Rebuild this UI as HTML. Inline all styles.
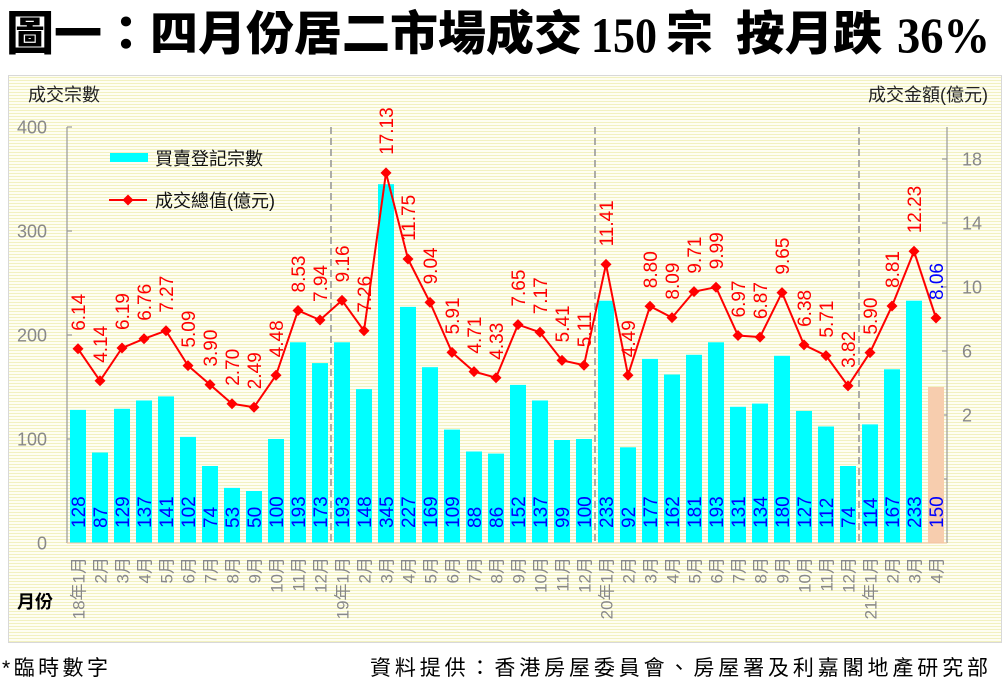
<!DOCTYPE html>
<html><head><meta charset="utf-8"><style>
html,body{margin:0;padding:0;background:#fff;}
svg{display:block;}
text{font-family:"Liberation Sans","Noto Sans CJK TC",sans-serif;}
</style></head><body>
<svg width="1006" height="687" viewBox="0 0 1006 687" xmlns="http://www.w3.org/2000/svg">
<defs>
<pattern id="st" width="6" height="3" patternUnits="userSpaceOnUse"><rect width="6" height="3" fill="#fefef2"/><rect y="2" width="6" height="1" fill="#f2f1c0"/></pattern>
<path id="d" d="M0,-5.5L5.5,0L0,5.5L-5.5,0Z" fill="#ff0000"/>
</defs>
<rect width="1006" height="687" fill="#fff"/>
<!-- Title -->
<g font-weight="900" fill="#000">
<text x="6" y="50" font-size="47" textLength="576" lengthAdjust="spacingAndGlyphs" style="font-family:'Noto Sans CJK TC','Noto Sans CJK SC',sans-serif">圖一：四月份居二市場成交</text>
<text x="591" y="52" font-size="50" textLength="66" lengthAdjust="spacingAndGlyphs" style="font-family:'Liberation Serif',serif">150</text>
<text x="666" y="50" font-size="47" style="font-family:'Noto Sans CJK TC','Noto Sans CJK SC',sans-serif">宗</text>
<text x="736" y="50" font-size="47" textLength="146" lengthAdjust="spacingAndGlyphs" style="font-family:'Noto Sans CJK TC','Noto Sans CJK SC',sans-serif">按月跌</text>
<text x="897" y="52" font-size="50" textLength="93" lengthAdjust="spacingAndGlyphs" style="font-family:'Liberation Serif',serif">36%</text>
</g>
<!-- chart box -->
<rect x="8.5" y="75.5" width="993" height="567" fill="url(#st)" stroke="#d8d8d8" stroke-width="1"/>
<text x="28" y="101" font-size="18" fill="#222">成交宗數</text>
<text x="988" y="101" font-size="18" fill="#222" text-anchor="end">成交金額(億元)</text>
<!-- axes -->
<g stroke="#999" stroke-width="1.2" fill="none">
<line x1="67" y1="127" x2="67" y2="543"/>
<line x1="947" y1="127" x2="947" y2="543"/>
<line x1="67" y1="127" x2="72" y2="127"/><line x1="67" y1="231" x2="72" y2="231"/><line x1="67" y1="335" x2="72" y2="335"/><line x1="67" y1="439" x2="72" y2="439"/>
<line x1="942" y1="159" x2="947" y2="159"/><line x1="942" y1="223" x2="947" y2="223"/><line x1="942" y1="287" x2="947" y2="287"/><line x1="942" y1="351" x2="947" y2="351"/><line x1="942" y1="415" x2="947" y2="415"/><line x1="942" y1="479" x2="947" y2="479"/>
</g>
<g stroke="#999" stroke-width="1.6" stroke-dasharray="7,4">
<line x1="331" y1="127" x2="331" y2="543"/>
<line x1="595" y1="127" x2="595" y2="543"/>
<line x1="859" y1="127" x2="859" y2="543"/>
</g>
<g font-size="18" fill="#888" text-anchor="end">
<text x="47" y="133.5">400</text><text x="47" y="237.5">300</text><text x="47" y="341.5">200</text><text x="47" y="445.5">100</text><text x="47" y="549.5">0</text>
</g>
<g font-size="18" fill="#888">
<text x="962" y="165.5">18</text><text x="962" y="229.5">14</text><text x="962" y="293.5">10</text><text x="962" y="357.5">6</text><text x="962" y="421.5">2</text>
</g>
<!-- bars -->
<g fill="#00ffff">
<rect x="70" y="409.9" width="16" height="133.1"/>
<rect x="92" y="452.5" width="16" height="90.5"/>
<rect x="114" y="408.8" width="16" height="134.2"/>
<rect x="136" y="400.5" width="16" height="142.5"/>
<rect x="158" y="396.4" width="16" height="146.6"/>
<rect x="180" y="436.9" width="16" height="106.1"/>
<rect x="202" y="466" width="16" height="77"/>
<rect x="224" y="487.9" width="16" height="55.1"/>
<rect x="246" y="491" width="16" height="52"/>
<rect x="268" y="439" width="16" height="104"/>
<rect x="290" y="342.3" width="16" height="200.7"/>
<rect x="312" y="363.1" width="16" height="179.9"/>
<rect x="334" y="342.3" width="16" height="200.7"/>
<rect x="356" y="389.1" width="16" height="153.9"/>
<rect x="378" y="184.2" width="16" height="358.8"/>
<rect x="400" y="306.9" width="16" height="236.1"/>
<rect x="422" y="367.2" width="16" height="175.8"/>
<rect x="444" y="429.6" width="16" height="113.4"/>
<rect x="466" y="451.5" width="16" height="91.5"/>
<rect x="488" y="453.6" width="16" height="89.4"/>
<rect x="510" y="384.9" width="16" height="158.1"/>
<rect x="532" y="400.5" width="16" height="142.5"/>
<rect x="554" y="440" width="16" height="103"/>
<rect x="576" y="439" width="16" height="104"/>
<rect x="598" y="300.7" width="16" height="242.3"/>
<rect x="620" y="447.3" width="16" height="95.7"/>
<rect x="642" y="358.9" width="16" height="184.1"/>
<rect x="664" y="374.5" width="16" height="168.5"/>
<rect x="686" y="354.8" width="16" height="188.2"/>
<rect x="708" y="342.3" width="16" height="200.7"/>
<rect x="730" y="406.8" width="16" height="136.2"/>
<rect x="752" y="403.6" width="16" height="139.4"/>
<rect x="774" y="355.8" width="16" height="187.2"/>
<rect x="796" y="410.9" width="16" height="132.1"/>
<rect x="818" y="426.5" width="16" height="116.5"/>
<rect x="840" y="466" width="16" height="77"/>
<rect x="862" y="424.4" width="16" height="118.6"/>
<rect x="884" y="369.3" width="16" height="173.7"/>
<rect x="906" y="300.7" width="16" height="242.3"/>
</g>
<rect x="928" y="387" width="16" height="156" fill="#f7cdae"/>
<line x1="67" y1="543" x2="947" y2="543" stroke="#f2c49e" stroke-width="1"/>
<!-- bar labels -->
<g font-size="19" fill="#0000ff">
<text transform="translate(85,528) rotate(-90)">128</text>
<text transform="translate(107,528) rotate(-90)">87</text>
<text transform="translate(129,528) rotate(-90)">129</text>
<text transform="translate(151,528) rotate(-90)">137</text>
<text transform="translate(173,528) rotate(-90)">141</text>
<text transform="translate(195,528) rotate(-90)">102</text>
<text transform="translate(217,528) rotate(-90)">74</text>
<text transform="translate(239,528) rotate(-90)">53</text>
<text transform="translate(261,528) rotate(-90)">50</text>
<text transform="translate(283,528) rotate(-90)">100</text>
<text transform="translate(305,528) rotate(-90)">193</text>
<text transform="translate(327,528) rotate(-90)">173</text>
<text transform="translate(349,528) rotate(-90)">193</text>
<text transform="translate(371,528) rotate(-90)">148</text>
<text transform="translate(393,528) rotate(-90)">345</text>
<text transform="translate(415,528) rotate(-90)">227</text>
<text transform="translate(437,528) rotate(-90)">169</text>
<text transform="translate(459,528) rotate(-90)">109</text>
<text transform="translate(481,528) rotate(-90)">88</text>
<text transform="translate(503,528) rotate(-90)">86</text>
<text transform="translate(525,528) rotate(-90)">152</text>
<text transform="translate(547,528) rotate(-90)">137</text>
<text transform="translate(569,528) rotate(-90)">99</text>
<text transform="translate(591,528) rotate(-90)">100</text>
<text transform="translate(613,528) rotate(-90)">233</text>
<text transform="translate(635,528) rotate(-90)">92</text>
<text transform="translate(657,528) rotate(-90)">177</text>
<text transform="translate(679,528) rotate(-90)">162</text>
<text transform="translate(701,528) rotate(-90)">181</text>
<text transform="translate(723,528) rotate(-90)">193</text>
<text transform="translate(745,528) rotate(-90)">131</text>
<text transform="translate(767,528) rotate(-90)">134</text>
<text transform="translate(789,528) rotate(-90)">180</text>
<text transform="translate(811,528) rotate(-90)">127</text>
<text transform="translate(833,528) rotate(-90)">112</text>
<text transform="translate(855,528) rotate(-90)">74</text>
<text transform="translate(877,528) rotate(-90)">114</text>
<text transform="translate(899,528) rotate(-90)">167</text>
<text transform="translate(921,528) rotate(-90)">233</text>
<text transform="translate(943,528) rotate(-90)">150</text>
</g>
<!-- line -->
<polyline fill="none" stroke="#ff0000" stroke-width="2" points="78,348.8 100,380.8 122,348.0 144,338.8 166,330.7 188,365.6 210,384.6 232,403.8 254,407.2 276,375.3 298,310.5 320,320.0 342,300.4 364,330.8 386,172.9 408,259.0 430,302.4 452,352.4 474,371.6 496,377.7 518,324.6 540,332.3 562,360.4 584,365.2 606,264.4 628,375.2 650,306.2 672,317.6 694,291.6 716,287.2 738,335.5 760,337.1 782,292.6 804,344.9 826,355.6 848,385.9 870,352.6 892,306.0 914,251.3 936,318.0"/>
<g>
<use href="#d" x="78" y="348.8"/><use href="#d" x="100" y="380.8"/><use href="#d" x="122" y="348"/><use href="#d" x="144" y="338.8"/><use href="#d" x="166" y="330.7"/><use href="#d" x="188" y="365.6"/><use href="#d" x="210" y="384.6"/><use href="#d" x="232" y="403.8"/><use href="#d" x="254" y="407.2"/><use href="#d" x="276" y="375.3"/><use href="#d" x="298" y="310.5"/><use href="#d" x="320" y="320"/><use href="#d" x="342" y="300.4"/><use href="#d" x="364" y="330.8"/><use href="#d" x="386" y="172.9"/><use href="#d" x="408" y="259"/><use href="#d" x="430" y="302.4"/><use href="#d" x="452" y="352.4"/><use href="#d" x="474" y="371.6"/><use href="#d" x="496" y="377.7"/><use href="#d" x="518" y="324.6"/><use href="#d" x="540" y="332.3"/><use href="#d" x="562" y="360.4"/><use href="#d" x="584" y="365.2"/><use href="#d" x="606" y="264.4"/><use href="#d" x="628" y="375.2"/><use href="#d" x="650" y="306.2"/><use href="#d" x="672" y="317.6"/><use href="#d" x="694" y="291.6"/><use href="#d" x="716" y="287.2"/><use href="#d" x="738" y="335.5"/><use href="#d" x="760" y="337.1"/><use href="#d" x="782" y="292.6"/><use href="#d" x="804" y="344.9"/><use href="#d" x="826" y="355.6"/><use href="#d" x="848" y="385.9"/><use href="#d" x="870" y="352.6"/><use href="#d" x="892" y="306"/><use href="#d" x="914" y="251.3"/><use href="#d" x="936" y="318"/>
</g>
<!-- line labels -->
<g font-size="19" fill="#ff0000">
<text transform="translate(85,330.8) rotate(-90)">6.14</text>
<text transform="translate(107,362.8) rotate(-90)">4.14</text>
<text transform="translate(129,330) rotate(-90)">6.19</text>
<text transform="translate(151,320.8) rotate(-90)">6.76</text>
<text transform="translate(173,312.7) rotate(-90)">7.27</text>
<text transform="translate(195,347.6) rotate(-90)">5.09</text>
<text transform="translate(217,366.6) rotate(-90)">3.90</text>
<text transform="translate(239,385.8) rotate(-90)">2.70</text>
<text transform="translate(261,389.2) rotate(-90)">2.49</text>
<text transform="translate(283,357.3) rotate(-90)">4.48</text>
<text transform="translate(305,292.5) rotate(-90)">8.53</text>
<text transform="translate(327,302) rotate(-90)">7.94</text>
<text transform="translate(349,282.4) rotate(-90)">9.16</text>
<text transform="translate(371,312.8) rotate(-90)">7.26</text>
<text transform="translate(393,154.9) rotate(-90)">17.13</text>
<text transform="translate(415,241) rotate(-90)">11.75</text>
<text transform="translate(437,284.4) rotate(-90)">9.04</text>
<text transform="translate(459,334.4) rotate(-90)">5.91</text>
<text transform="translate(481,353.6) rotate(-90)">4.71</text>
<text transform="translate(503,359.7) rotate(-90)">4.33</text>
<text transform="translate(525,306.6) rotate(-90)">7.65</text>
<text transform="translate(547,314.3) rotate(-90)">7.17</text>
<text transform="translate(569,342.4) rotate(-90)">5.41</text>
<text transform="translate(591,347.2) rotate(-90)">5.11</text>
<text transform="translate(613,246.4) rotate(-90)">11.41</text>
<text transform="translate(635,357.2) rotate(-90)">4.49</text>
<text transform="translate(657,288.2) rotate(-90)">8.80</text>
<text transform="translate(679,299.6) rotate(-90)">8.09</text>
<text transform="translate(701,273.6) rotate(-90)">9.71</text>
<text transform="translate(723,269.2) rotate(-90)">9.99</text>
<text transform="translate(745,317.5) rotate(-90)">6.97</text>
<text transform="translate(767,319.1) rotate(-90)">6.87</text>
<text transform="translate(789,274.6) rotate(-90)">9.65</text>
<text transform="translate(811,326.9) rotate(-90)">6.38</text>
<text transform="translate(833,337.6) rotate(-90)">5.71</text>
<text transform="translate(855,367.9) rotate(-90)">3.82</text>
<text transform="translate(877,334.6) rotate(-90)">5.90</text>
<text transform="translate(899,288) rotate(-90)">8.81</text>
<text transform="translate(921,233.3) rotate(-90)">12.23</text>
</g>
<text transform="translate(943,300) rotate(-90)" font-size="19" fill="#0000ff">8.06</text>
<!-- x labels -->
<g font-size="17" fill="#888" text-anchor="end">
<text transform="translate(84.5,557) rotate(-90)">18年1月</text>
<text transform="translate(106.5,557) rotate(-90)">2月</text>
<text transform="translate(128.5,557) rotate(-90)">3月</text>
<text transform="translate(150.5,557) rotate(-90)">4月</text>
<text transform="translate(172.5,557) rotate(-90)">5月</text>
<text transform="translate(194.5,557) rotate(-90)">6月</text>
<text transform="translate(216.5,557) rotate(-90)">7月</text>
<text transform="translate(238.5,557) rotate(-90)">8月</text>
<text transform="translate(260.5,557) rotate(-90)">9月</text>
<text transform="translate(282.5,557) rotate(-90)">10月</text>
<text transform="translate(304.5,557) rotate(-90)">11月</text>
<text transform="translate(326.5,557) rotate(-90)">12月</text>
<text transform="translate(348.5,557) rotate(-90)">19年1月</text>
<text transform="translate(370.5,557) rotate(-90)">2月</text>
<text transform="translate(392.5,557) rotate(-90)">3月</text>
<text transform="translate(414.5,557) rotate(-90)">4月</text>
<text transform="translate(436.5,557) rotate(-90)">5月</text>
<text transform="translate(458.5,557) rotate(-90)">6月</text>
<text transform="translate(480.5,557) rotate(-90)">7月</text>
<text transform="translate(502.5,557) rotate(-90)">8月</text>
<text transform="translate(524.5,557) rotate(-90)">9月</text>
<text transform="translate(546.5,557) rotate(-90)">10月</text>
<text transform="translate(568.5,557) rotate(-90)">11月</text>
<text transform="translate(590.5,557) rotate(-90)">12月</text>
<text transform="translate(612.5,557) rotate(-90)">20年1月</text>
<text transform="translate(634.5,557) rotate(-90)">2月</text>
<text transform="translate(656.5,557) rotate(-90)">3月</text>
<text transform="translate(678.5,557) rotate(-90)">4月</text>
<text transform="translate(700.5,557) rotate(-90)">5月</text>
<text transform="translate(722.5,557) rotate(-90)">6月</text>
<text transform="translate(744.5,557) rotate(-90)">7月</text>
<text transform="translate(766.5,557) rotate(-90)">8月</text>
<text transform="translate(788.5,557) rotate(-90)">9月</text>
<text transform="translate(810.5,557) rotate(-90)">10月</text>
<text transform="translate(832.5,557) rotate(-90)">11月</text>
<text transform="translate(854.5,557) rotate(-90)">12月</text>
<text transform="translate(876.5,557) rotate(-90)">21年1月</text>
<text transform="translate(898.5,557) rotate(-90)">2月</text>
<text transform="translate(920.5,557) rotate(-90)">3月</text>
<text transform="translate(942.5,557) rotate(-90)">4月</text>
</g>
<text x="17" y="608" font-size="18" font-weight="bold" fill="#000">月份</text>
<!-- legend -->
<rect x="110" y="153" width="38" height="9" fill="#00ffff"/>
<text x="155" y="165" font-size="18" fill="#111">買賣登記宗數</text>
<line x1="109" y1="200" x2="147" y2="200" stroke="#ff0000" stroke-width="2"/>
<use href="#d" x="128" y="200"/>
<text x="155" y="207" font-size="18" fill="#111">成交總值(億元)</text>
<!-- footer -->
<text x="2" y="675" font-size="21" fill="#000" textLength="106" lengthAdjust="spacing">*臨時數字</text>
<text x="370" y="675" font-size="21" fill="#000" textLength="618" lengthAdjust="spacing">資料提供：香港房屋委員會、房屋署及利嘉閣地產研究部</text>
</svg>
</body></html>
